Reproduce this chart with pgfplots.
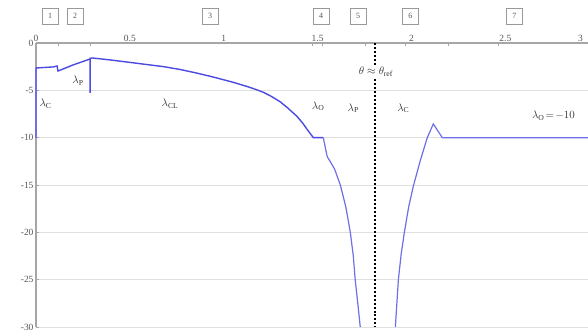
\documentclass[border=0pt]{standalone}
\usepackage{pgfplots}
\pgfplotsset{compat=1.18}
\usepackage{fontspec}
\setmainfont{Liberation Serif}
\definecolor{curve}{RGB}{75,75,225}
\definecolor{curvelight}{RGB}{110,110,230}
\definecolor{tickgray}{RGB}{85,85,85}
\tikzset{regbox/.style={draw=gray!80, line width=0.7bp, minimum width=16bp, minimum height=16bp, inner sep=1bp, font=\fontsize{8}{9}\selectfont, text=tickgray},
  lab/.style={font=\fontsize{11}{12}\selectfont, text=black!80}}
\begin{document}
\begin{tikzpicture}
\useasboundingbox (-36bp,-7bp) rectangle (552bp,327bp);
\begin{axis}[
  scale only axis, width=552bp, height=284bp,
  xmin=0, xmax=2.94, ymin=-30, ymax=0,
  axis x line*=top, axis y line*=left,
  axis line style={draw=gray!70, line width=1.2bp},
  xtick={0.117,0.288,1.471,1.525,1.754,1.967,2.196,2.463},
  xticklabels={},
  extra x ticks={0,0.5,1,1.5,2,2.5},
  extra x tick labels={0,0.5,1,1.5,2,2.5},
  extra x tick style={major tick length=0pt},
  tick align=inside,
  major tick length=3bp,
  tick style={gray!70, line width=0.5bp},
  ytick={0,-5,-10,-15,-20,-25,-30},
  ymajorgrids, grid style={gray!25, line width=0.8bp},
  ticklabel style={font=\fontsize{9.5}{10}\selectfont, text=tickgray},
  /pgf/number format/assume math mode=true,
  xticklabel style={yshift=-2bp},
  yticklabel style={xshift=1bp},
  clip=false,
]
\addplot[curvelight, line width=1.1bp] coordinates {
 (0,-10) (0,-2.64)
};
\addplot[curve, line width=1.4bp] coordinates {
 (0,-2.64) (0.091,-2.53) (0.112,-2.43) (0.117,-2.96) (0.2,-2.3) (0.288,-1.69)
 (0.288,-5.28) (0.288,-1.62) (0.299,-1.58) (0.4,-1.8) (0.501,-2.05) (0.6,-2.3)
 (0.68,-2.5) (0.768,-2.8) (0.85,-3.15) (0.943,-3.59) (1.05,-4.15) (1.125,-4.6)
 (1.17,-4.9) (1.21,-5.2) (1.25,-5.6) (1.30,-6.2) (1.34,-6.85) (1.39,-7.75)
 (1.42,-8.45) (1.445,-9.15) (1.477,-10) (1.530,-10)
};
\addplot[curvelight, line width=1.2bp] coordinates {
 (1.530,-10) (1.551,-12.0) (1.59,-13.3) (1.621,-15.0) (1.65,-17.3) (1.674,-20.0)
 (1.69,-22.5) (1.700,-25.0) (1.715,-27.7) (1.727,-30)
};
\addplot[curvelight, line width=1.2bp] coordinates {
 (1.914,-30) (1.930,-25) (1.945,-22.3) (1.962,-20) (1.985,-17.3) (2.010,-15.1)
 (2.047,-12.4) (2.084,-10) (2.116,-8.55) (2.164,-10) (2.94,-10)
};
\addplot[black, dotted, line width=2bp] coordinates {(1.807,0) (1.807,-30)};
\node[lab, anchor=west] at (axis cs:0.0,-6.4) {$\lambda_{\mathrm{C}}$};
\node[lab] at (axis cs:0.224,-4.0) {$\lambda_{\mathrm{P}}$};
\node[lab] at (axis cs:0.714,-6.4) {$\lambda_{\mathrm{CL}}$};
\node[lab] at (axis cs:1.503,-6.7) {$\lambda_{\mathrm{O}}$};
\node[lab] at (axis cs:1.69,-6.9) {$\lambda_{\mathrm{P}}$};
\node[lab] at (axis cs:1.956,-6.9) {$\lambda_{\mathrm{C}}$};
\node[lab] at (axis cs:2.756,-7.7) {$\lambda_{\mathrm{O}}\!=\!-10$};
\node[lab, fill=white, inner sep=1bp] at (axis cs:1.81,-3.06) {$\theta \approx \theta_{\mathrm{ref}}$};
\node[regbox] at ([yshift=27bp]axis cs:0.075,0) {1};
\node[regbox] at ([yshift=27bp]axis cs:0.208,0) {2};
\node[regbox] at ([yshift=27bp]axis cs:0.927,0) {3};
\node[regbox] at ([yshift=27bp]axis cs:1.519,0) {4};
\node[regbox] at ([yshift=27bp]axis cs:1.716,0) {5};
\node[regbox] at ([yshift=27bp]axis cs:1.994,0) {6};
\node[regbox] at ([yshift=27bp]axis cs:2.548,0) {7};
\node[font=\fontsize{9.5}{10}\selectfont, text=tickgray, anchor=south] at ([yshift=-2bp]axis cs:2.90,0) {3};
\end{axis}
\end{tikzpicture}
\end{document}
